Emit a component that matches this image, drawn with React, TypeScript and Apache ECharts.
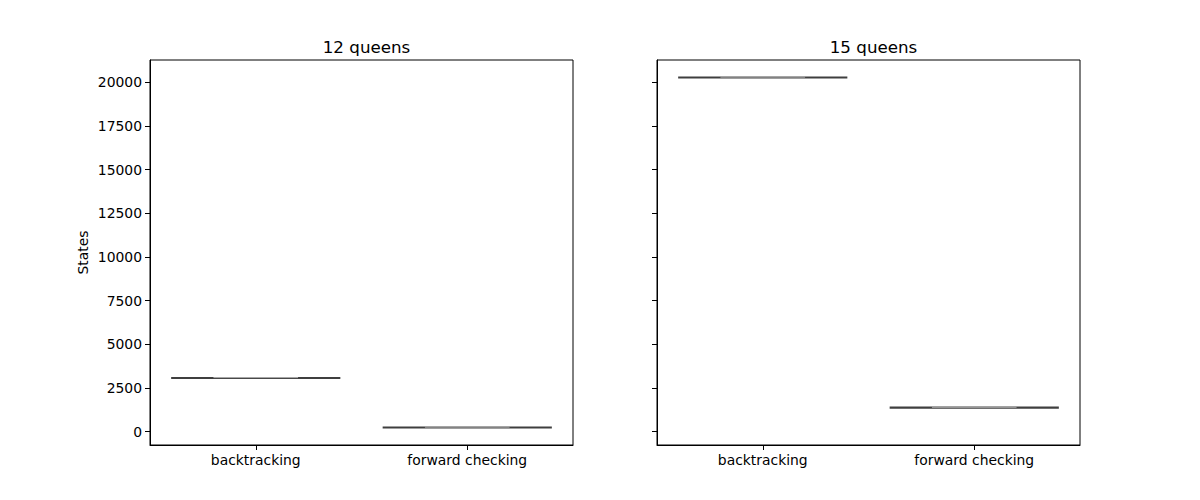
import React, { useEffect, useRef } from "react";
import * as echarts from "echarts";

const categories = ["backtracking", "forward checking"];
const titles = ["12 queens", "15 queens"];
const queens12 = [3066, 229];
const queens15 = [20280, 1365];
const yTicks = [0, 2500, 5000, 7500, 10000, 12500, 15000, 17500, 20000];
const yMin = -773;
const yMax = 21283;

const FONT = "DejaVu Sans";

function renderBox(params: any, api: any) {
  const c = api.coord([api.value(0), api.value(1)]);
  const w = api.size([1, 0])[0] * 0.8;
  return {
    type: "group",
    children: [
      {
        type: "line",
        shape: { x1: c[0] - w / 2, y1: c[1], x2: c[0] + w / 2, y2: c[1] },
        style: { stroke: "#3f3f3f", lineWidth: 2.2 },
      },
      {
        type: "line",
        shape: { x1: c[0] - w / 4, y1: c[1] - 0.4, x2: c[0] + w / 4, y2: c[1] - 0.4 },
        style: { stroke: "#b0b0b0", lineWidth: 1 },
      },
    ],
  };
}

export default function App() {
  const ref = useRef<HTMLDivElement>(null);
  useEffect(() => {
    if (!ref.current) return;
    const chart = echarts.init(ref.current, null, { renderer: "svg" });
    const grids = [
      { left: 150, top: 60, width: 423, height: 385 },
      { left: 657, top: 60, width: 423, height: 385 },
    ];
    const seriesValues = [queens12, queens15];
    chart.setOption({
      animation: false,
      backgroundColor: "#ffffff",
      textStyle: { fontFamily: FONT },
      title: titles.map((t, i) => ({
        text: t,
        left: grids[i].left + grids[i].width / 2,
        top: 33,
        textAlign: "center",
        textStyle: { fontFamily: FONT, fontSize: 16.7, fontWeight: "normal", color: "#000" },
      })),
      grid: grids.map((g) => ({
        ...g,
        show: true,
        borderColor: "#000",
        borderWidth: 1,
        backgroundColor: "#fff",
      })),
      xAxis: grids.map((_, i) => ({
        type: "category",
        gridIndex: i,
        data: categories,
        boundaryGap: true,
        axisLine: { show: true, onZero: false, lineStyle: { color: "#000", width: 1 } },
        axisTick: { show: true, alignWithLabel: true, length: 5, lineStyle: { color: "#000" } },
        axisLabel: { color: "#000", fontFamily: FONT, fontSize: 13.9, margin: 8 },
        splitLine: { show: false },
      })),
      yAxis: grids.map((_, i) => ({
        type: "value",
        gridIndex: i,
        min: yMin,
        max: yMax,
        name: i === 0 ? "States" : "",
        nameLocation: "middle",
        nameGap: 60,
        nameTextStyle: { color: "#000", fontFamily: FONT, fontSize: 13.9 },
        axisLine: { show: true, onZero: false, lineStyle: { color: "#000", width: 1 } },
        axisTick: { show: true, length: 5, lineStyle: { color: "#000" }, customValues: yTicks },
        axisLabel: {
          show: i === 0,
          color: "#000",
          fontFamily: FONT,
          fontSize: 13.9,
          margin: 8,
          customValues: yTicks,
          formatter: (v: number) => String(v),
        },
        splitLine: { show: false },
      })),
      series: seriesValues.map((vals, i) => ({
        type: "custom",
        xAxisIndex: i,
        yAxisIndex: i,
        renderItem: renderBox,
        data: vals.map((v, j) => [j, v]),
      })),
    });
    return () => chart.dispose();
  }, []);
  return (
    <div
      ref={ref}
      style={{ position: "absolute", left: 0, top: 0, width: 1200, height: 500 }}
    />
  );
}
